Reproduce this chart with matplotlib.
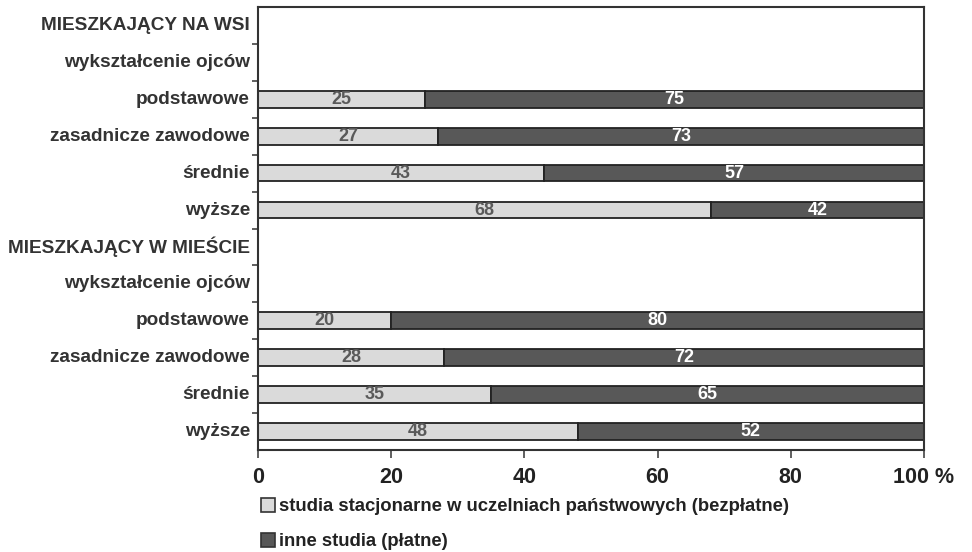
import matplotlib.pyplot as plt
from matplotlib.patches import Patch

# dane: odsetek studentów wg miejsca zamieszkania i wykształcenia ojca
kategorie = ["MIESZKAJĄCY NA WSI", "wykształcenie ojców", "podstawowe",
             "zasadnicze zawodowe", "średnie", "wyższe",
             "MIESZKAJĄCY W MIEŚCIE", "wykształcenie ojców", "podstawowe",
             "zasadnicze zawodowe", "średnie", "wyższe"]
bezplatne = [None, None, 25, 27, 43, 68, None, None, 20, 28, 35, 48]
platne = [None, None, 75, 73, 57, 42, None, None, 80, 72, 65, 52]
x_ticks = [0, 20, 40, 60, 80, 100]
x_labels = ["0", "20", "40", "60", "80", "100 %"]
legenda = ["studia stacjonarne w uczelniach państwowych (bezpłatne)",
           "inne studia (płatne)"]

JASNY = "#dadada"
CIEMNY = "#585858"
SANS = ["Liberation Sans", "DejaVu Sans"]

fig = plt.figure(figsize=(9.72, 5.52), dpi=100)
ax = fig.add_axes([258 / 972, 1 - 450 / 552, 666 / 972, 443 / 552])

for i, nazwa in enumerate(kategorie):
    if bezplatne[i] is None:
        continue
    b = bezplatne[i]
    p = platne[i]
    ax.barh(i, b, height=0.45, color=JASNY, edgecolor="#222222", linewidth=1.3)
    ax.barh(i, p, left=b, height=0.45, color=CIEMNY, edgecolor="#222222", linewidth=1.3)
    ax.text(b / 2, i, str(b), ha="center", va="center", fontsize=13,
            fontweight="bold", color="#5a5a5a", family=SANS)
    ax.text((b + 100) / 2, i, str(p), ha="center", va="center", fontsize=13,
            fontweight="bold", color="white", family=SANS)

ax.set_xlim(0, 100)
ax.set_ylim(len(kategorie) - 0.5, -0.5)

ax.set_yticks([i + 0.5 for i in range(len(kategorie) - 1)])
ax.set_yticklabels([])
ax.tick_params(axis="y", length=4, width=1.2, color="#444444")
for i, nazwa in enumerate(kategorie):
    ax.text(-1.2, i, nazwa, ha="right", va="center", fontsize=13.7,
            fontweight="bold", color="#333333", family=SANS)

ax.set_xticks(x_ticks)
ax.set_xticklabels(x_labels, fontsize=15.5, fontweight="bold", family=SANS,
                   color="#222222")
ax.tick_params(axis="x", length=6, width=1.2, color="#444444", pad=6)

for s in ax.spines.values():
    s.set_linewidth(1.5)
    s.set_color("#333333")

uchwyty = [Patch(facecolor=JASNY, edgecolor="#333333", linewidth=1.2),
           Patch(facecolor=CIEMNY, edgecolor="#333333", linewidth=1.2)]
leg = fig.legend(uchwyty, legenda, loc="upper left",
                 bbox_to_anchor=(244 / 972, 1 - 481 / 552),
                 frameon=False, handlelength=0.8, handleheight=0.8,
                 handletextpad=0.2, labelspacing=0.95,
                 prop={"family": SANS, "weight": "bold", "size": 13.3})
for t in leg.get_texts():
    t.set_color("#222222")

fig.savefig("out.png", dpi=100)
